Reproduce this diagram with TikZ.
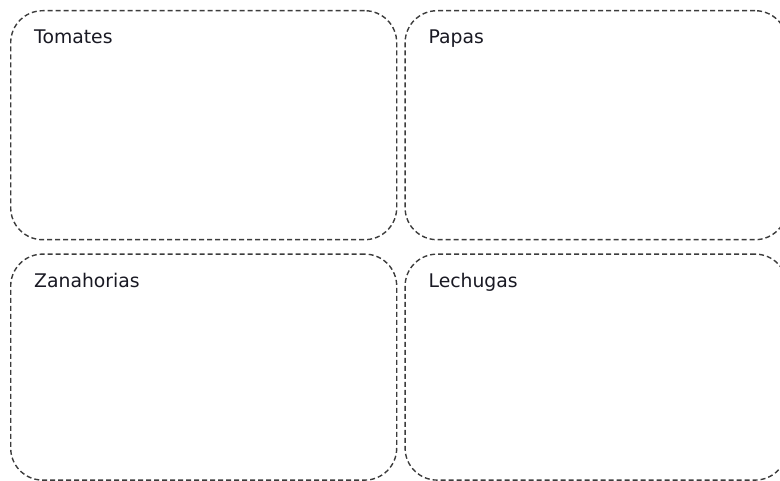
\documentclass[tikz,border=0pt]{standalone}
\usepackage{fontspec}
\setmainfont{DejaVu Sans}
\usetikzlibrary{positioning}
\definecolor{BoxGray}{RGB}{60, 60, 60}
\definecolor{TextDark}{RGB}{25, 25, 35}

\begin{document}
\begin{tikzpicture}[x=1pt, y=-1pt, node distance=7pt,
  crate/.style={draw=BoxGray, line width=1.4pt, dash pattern=on 5pt off 3pt,
    rounded corners=32pt, minimum width=386pt, minimum height=229pt, inner sep=0pt},
  tag/.style={anchor=base west, inner sep=0pt, text=TextDark, font=\fontsize{18.8}{22}\selectfont}]
\useasboundingbox (0,0) rectangle (780,481);

% Top row
\node[crate, anchor=north west] (tomates) at (10,10) {};
\node[crate, minimum width=382pt, right=7pt of tomates] (papas) {};

% Bottom row
\node[crate, minimum height=226pt, below=13pt of tomates] (zanahorias) {};
\node[crate, minimum width=382pt, minimum height=226pt, right=7pt of zanahorias] (lechugas) {};

% Labels
\node[tag] (tomatesTxt) at ([shift={(24,34)}]tomates.north west) {Tomates};
\node[tag] (papasTxt) at ([shift={(24,34)}]papas.north west) {Papas};
\node[tag] (zanahoriasTxt) at ([shift={(24,34)}]zanahorias.north west) {Zanahorias};
\node[tag] (lechugasTxt) at ([shift={(24,34)}]lechugas.north west) {Lechugas};
\end{tikzpicture}
\end{document}
